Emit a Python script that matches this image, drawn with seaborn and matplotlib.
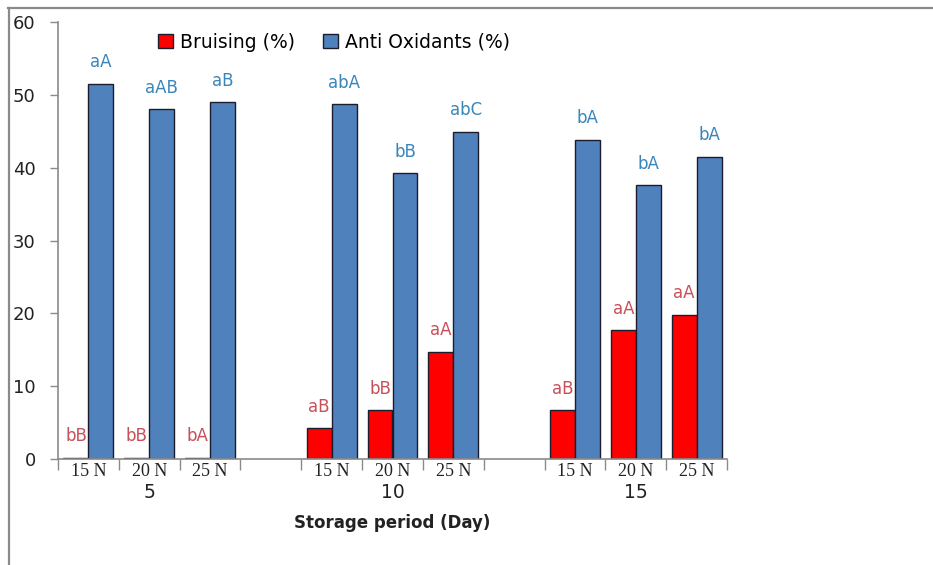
import matplotlib
matplotlib.use("Agg")
import matplotlib.pyplot as plt
import matplotlib.transforms as mtransforms
from matplotlib.lines import Line2D
from matplotlib.patches import Patch
import seaborn as sns
import pandas as pd
import numpy as np

# ---- data ----
days = ["5", "10", "15"]
forces = ["15 N", "20 N", "25 N"]
bruising = [0.2, 0.2, 0.2, 4.2, 6.7, 14.7, 6.7, 17.7, 19.8]
antioxidants = [51.5, 48.0, 49.0, 48.7, 39.2, 44.9, 43.8, 37.6, 41.5]
bruising_letters = ["bB", "bB", "bA", "aB", "bB", "aA", "aB", "aA", "aA"]
antiox_letters = ["aA", "aAB", "aB", "abA", "bB", "abC", "bA", "bA", "bA"]
series = ["Bruising (%)", "Anti Oxidants (%)"]
y_ticks = [0, 10, 20, 30, 40, 50, 60]

RED = "#FF0000"
BLUE = "#4F81BD"
RED_TXT = "#C8505A"
BLUE_TXT = "#3A86BA"
EDGE = "#1c1c2c"
GRAY = "#8a8a8a"

# slot order: 3 bars per day with an empty slot between days
slots = []
slot_tick_labels = []
for i, d in enumerate(days):
    for f in forces:
        slots.append(f"{d}|{f}")
        slot_tick_labels.append(f)
    if i < len(days) - 1:
        slots.append(f"gap{i}")
        slot_tick_labels.append("")

rows = []
k = 0
for d in days:
    for f in forces:
        rows.append({"slot": f"{d}|{f}", "series": series[0], "value": bruising[k],
                     "letter": bruising_letters[k]})
        rows.append({"slot": f"{d}|{f}", "series": series[1], "value": antioxidants[k],
                     "letter": antiox_letters[k]})
        k += 1
df = pd.DataFrame(rows)

fig = plt.figure(figsize=(9.33, 5.65), dpi=100)
ax = fig.add_axes([58 / 933, 1 - 459 / 565, (727 - 58) / 933, (459 - 22) / 565])

sns.barplot(data=df, x="slot", y="value", hue="series", order=slots,
            hue_order=series, palette=[RED, BLUE], width=0.82, dodge=True,
            errorbar=None, edgecolor=EDGE, linewidth=1.0, saturation=1, ax=ax)
if ax.get_legend() is not None:
    ax.get_legend().remove()

# bar labels
letter_map = {(r.slot, r.series): r.letter for r in df.itertuples()}
for cont, s, col in zip(ax.containers, series, [RED_TXT, BLUE_TXT]):
    labels = []
    for p in cont.patches:
        xc = p.get_x() + p.get_width() / 2
        idx = int(round(xc))
        labels.append(letter_map.get((slots[idx], s), ""))
    ax.bar_label(cont, labels=labels, padding=9, color=col, fontsize=12,
                 family="DejaVu Sans")

ax.set_xlim(-0.5, len(slots) - 0.5)
ax.set_ylim(0, 60)
ax.set_yticks(y_ticks)
ax.set_yticklabels([str(v) for v in y_ticks], fontsize=13, color="#222222")
ax.tick_params(axis="y", length=6, width=1, color=GRAY, pad=10)

ax.set_xticks(range(len(slots)))
ax.set_xticklabels(slot_tick_labels, family="Liberation Serif", fontsize=13,
                   color="#222222")
ax.tick_params(axis="x", which="major", length=0, pad=3)
ax.set_xticks(np.arange(-0.5, len(slots), 1.0), minor=True)
ax.tick_params(axis="x", which="minor", length=8, width=1, color=GRAY)

for sp in ["top", "right"]:
    ax.spines[sp].set_visible(False)
for sp in ["left", "bottom"]:
    ax.spines[sp].set_color(GRAY)
    ax.spines[sp].set_linewidth(1.2)
ax.set_xlabel("")
ax.set_ylabel("")
ax.set_facecolor("white")

# day group labels
trans = mtransforms.blended_transform_factory(ax.transData, ax.transAxes)
for i, d in enumerate(days):
    center = i * (len(forces) + 1) + (len(forces) - 1) / 2
    ax.text(center, -0.077, d, transform=trans, ha="center", va="center",
            fontsize=13.5, color="#222222")

ax.text(0.5, -0.146, "Storage period (Day)", transform=ax.transAxes,
        ha="center", va="center", fontsize=12, fontweight="bold",
        color="#222222")

# legend
handles = [Patch(facecolor=RED, edgecolor=EDGE, linewidth=1),
           Patch(facecolor=BLUE, edgecolor=EDGE, linewidth=1)]
fig.legend(handles, series, loc="center", bbox_to_anchor=(334 / 933, 1 - 42 / 565),
           ncol=2, frameon=False, fontsize=13.5, handlelength=0.8, handleheight=0.8,
           handletextpad=0.35, columnspacing=1.5, borderpad=0)

# outer border (top and left)
fig.add_artist(Line2D([8 / 933, 1], [1 - 7.5 / 565, 1 - 7.5 / 565],
                      transform=fig.transFigure, color=GRAY, linewidth=1.6))
fig.add_artist(Line2D([8.5 / 933, 8.5 / 933], [0, 1 - 7.5 / 565],
                      transform=fig.transFigure, color=GRAY, linewidth=1.6))

fig.savefig("out.png", dpi=100, facecolor="white")
